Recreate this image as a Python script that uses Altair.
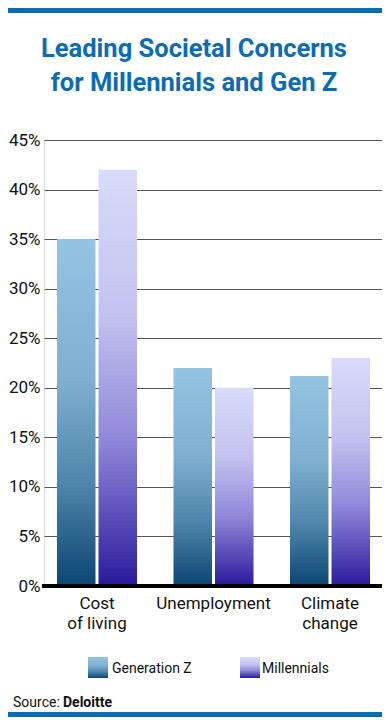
import altair as alt
import pandas as pd

categories = ["Cost|of living", "Unemployment", "Climate|change"]
series = ["Generation Z", "Millennials"]
gen_z = [35, 22, 21.2]
millennials = [42, 20, 23]
y_ticks = [0, 5, 10, 15, 20, 25, 30, 35, 40, 45]
title_lines = ["Leading Societal Concerns", "for Millennials and Gen Z"]
source_label = "Source:"
source_name = "Deloitte"

rows = []
for c, g, m in zip(categories, gen_z, millennials):
    rows.append({"category": c, "series": series[0], "value": g})
    rows.append({"category": c, "series": series[1], "value": m})
df = pd.DataFrame(rows)

FONT = "Roboto"
BLUE = "#0a6db3"
W, H = 338, 446


def grad(stops):
    return alt.Gradient(
        gradient="linear",
        stops=[alt.GradientStop(color=c, offset=o) for o, c in stops],
        x1=1, x2=1, y1=0, y2=1,
    )


grad_z = grad([(0, "#94c4e1"), (0.4, "#7fb0d1"), (0.7, "#4f86ab"), (1, "#0b4672")])
grad_m = grad([(0, "#d8dbf9"), (0.35, "#c3c2f0"), (0.65, "#8f87d9"), (1, "#2a1a9c")])

x_enc = alt.X(
    "category:N",
    sort=categories,
    scale=alt.Scale(paddingInner=0.313, paddingOuter=0.107, align=0.52),
    axis=alt.Axis(
        title=None, labelAngle=0, ticks=False, domain=False,
        labelExpr="split(datum.label, '|')",
        labelFont=FONT, labelFontSize=17, labelColor="#111",
        labelPadding=9, labelLineHeight=20,
    ),
)
xo_enc = alt.XOffset("series:N", sort=series, scale=alt.Scale(paddingInner=0.072, paddingOuter=0))
y_enc = alt.Y(
    "value:Q",
    scale=alt.Scale(domain=[0, 45], nice=False),
    axis=alt.Axis(
        title=None, values=y_ticks, labelExpr="datum.value + '%'",
        ticks=False, domain=False, grid=True, gridColor="#555", gridWidth=1,
        labelFont=FONT, labelFontSize=17, labelColor="#111", labelPadding=4,
    ),
)

base = alt.Chart(df)
bars_z = base.transform_filter(alt.datum.series == series[0]).mark_bar(color=grad_z).encode(
    x=x_enc, xOffset=xo_enc, y=y_enc
)
bars_m = base.transform_filter(alt.datum.series == series[1]).mark_bar(color=grad_m).encode(
    x=x_enc, xOffset=xo_enc, y=y_enc
)

one = alt.Data(values=[{"k": 1}])

zero = alt.Chart(one).mark_rule(color="#000", strokeWidth=4).encode(
    y=alt.datum(0), x=alt.value(-2), x2=alt.value(W)
)


def txt(text, x, y, size, bold=False, color="#111", align="left"):
    return alt.Chart(one).mark_text(
        font=FONT, fontSize=size, fontWeight="bold" if bold else "normal",
        color=color, align=align, baseline="alphabetic",
    ).encode(x=alt.value(x), y=alt.value(y), text=alt.value(text))


def rect(x, x2, y, y2, fill):
    return alt.Chart(one).mark_rect(color=fill).encode(
        x=alt.value(x), x2=alt.value(x2), y=alt.value(y), y2=alt.value(y2)
    )


title1 = txt(title_lines[0], 150, -83, 25.5, bold=True, color=BLUE, align="center")
title2 = txt(title_lines[1], 150, -49, 25.5, bold=True, color=BLUE, align="center")

top_band = rect(-36, W, -132, -127, BLUE)
bottom_band = rect(-36, W, 572, 577, BLUE)

leg_z = rect(44, 64, 517, 538, grad_z)
leg_m = rect(196, 216, 517, 538, grad_m)
leg_zt = txt(series[0], 68, 533, 14)
leg_mt = txt(series[1], 218, 533, 14)

src1 = txt(source_label, -31, 567, 14)
src2 = txt(source_name, 19, 567, 14, bold=True)

chart = alt.layer(
    bars_z, bars_m, zero, title1, title2, top_band, bottom_band,
    leg_z, leg_m, leg_zt, leg_mt, src1, src2,
).properties(
    width=W, height=H,
    autosize=alt.AutoSizeParams(type="none"),
    padding={"left": 36, "top": 132, "right": 0, "bottom": 131},
).configure_view(stroke=None).configure(background="white")

chart.save("out.html", embed_options={"renderer": "svg", "actions": False})
